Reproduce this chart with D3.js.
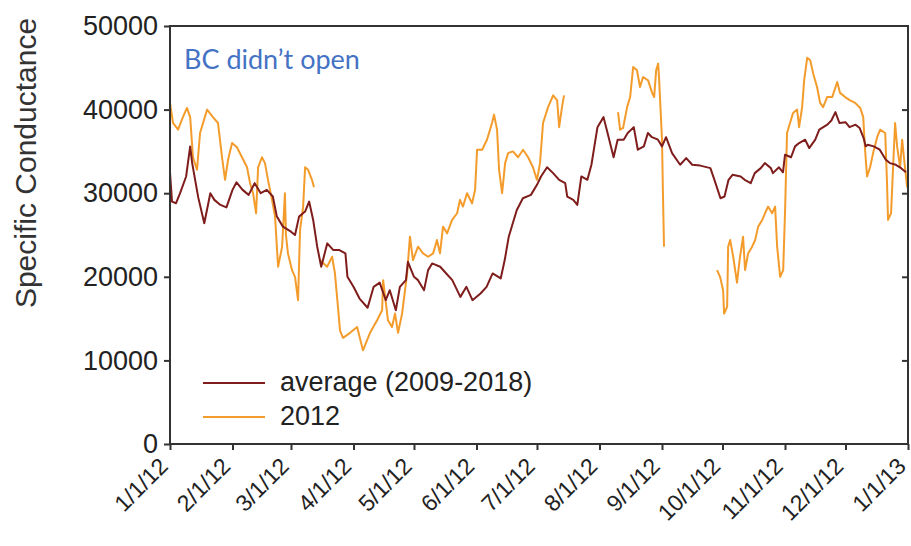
<!DOCTYPE html>
<html>
<head>
<meta charset="utf-8">
<script src="https://cdn.jsdelivr.net/npm/d3@7"></script>
<style>
  html, body { margin: 0; padding: 0; background: #fff; }
  svg { display: block; }
  text { font-family: "Liberation Sans", Arial, sans-serif; }
</style>
</head>
<body>
<svg id="chart" width="911" height="546"></svg>
<script>
// Daily specific conductance, sampled by day of year (0 = Jan 1, 2012)
const avgDay = [0, 1, 3, 5, 8, 10, 11, 14, 17, 20, 22, 25, 28, 31, 33, 36, 39, 42, 45, 48, 51, 53, 56, 60, 62, 64, 67, 69, 71, 73, 75, 78, 81, 84, 87, 88, 91, 94, 98, 101, 104, 107, 109, 112, 114, 117, 118, 121, 123, 126, 128, 130, 134, 137, 140, 144, 147, 150, 154, 157, 160, 164, 166, 168, 170, 172, 175, 179, 182, 184, 187, 190, 193, 196, 197, 200, 202, 204, 207, 209, 212, 215, 217, 220, 222, 225, 227, 230, 232, 235, 237, 239, 242, 244, 246, 249, 253, 256, 259, 263, 268, 270, 273, 275, 277, 279, 283, 285, 288, 290, 293, 295, 298, 299, 302, 304, 305, 308, 310, 312, 315, 317, 320, 322, 326, 328, 330, 332, 335, 337, 340, 342, 344, 345, 346, 349, 352, 355, 357, 360, 362, 365];
const avgValue = [32500, 29000, 28800, 30000, 32000, 35600, 33600, 29500, 26400, 30000, 29200, 28600, 28300, 30400, 31300, 30400, 29800, 31200, 30000, 30400, 29600, 27200, 26000, 25400, 25000, 27200, 27800, 29000, 26800, 23600, 21200, 24000, 23200, 23200, 22800, 20000, 18800, 17400, 16300, 18800, 19300, 17200, 18400, 16000, 18800, 19600, 21800, 20000, 19600, 18400, 20800, 21600, 21200, 20400, 19600, 17600, 18800, 17200, 18000, 18800, 20400, 19800, 22000, 24800, 26400, 28000, 29400, 29800, 31000, 32000, 33100, 32400, 31600, 31200, 29600, 29200, 28600, 32000, 31600, 33400, 37900, 39100, 37200, 34300, 36400, 36400, 37200, 37900, 35200, 35600, 37200, 36700, 36400, 35600, 36700, 34800, 33400, 34200, 33400, 33300, 33000, 31600, 29400, 29600, 31600, 32200, 32000, 31600, 31200, 32400, 33000, 33600, 33000, 32400, 33100, 32500, 34600, 34300, 35600, 36000, 36400, 35400, 36400, 37600, 38200, 38700, 39700, 38400, 38500, 37900, 38200, 37800, 36600, 35600, 35800, 35600, 35200, 34000, 33600, 33400, 33100, 32500];

// 2012 record; null marks days with no data
const yr2012Day = [0, 1.5, 4, 6.4, 8.4, 10, 11.4, 13.4, 14.9, 18.4, 21.3, 23.8, 25.8, 27.3, 28.8, 30.8, 33.2, 35.7, 38.2, 39.7, 41.2, 42.7, 43.7, 45.6, 47.1, 48.6, 50.6, 52.1, 53.6, 55.6, 57, 57.5, 58.5, 60.5, 62, 63.5, 64.5, 66, 67, 68.5, 70.4, 71.4,
  72.9,
  74.4, 77.9, 80.4, 81.8, 83.3, 84.3, 85.8, 89.3, 92.8, 95.7, 99.2, 102.7, 105.2, 105.7, 108.1, 110.1, 111.6, 113.1, 115.1, 117.6, 119, 120.5, 123, 125.5, 128, 130.5, 132.4, 133.9, 135.4, 137.4, 139.9, 142.4, 143.8, 145.3, 147.3, 149.8, 151.3, 152.3, 154.8, 157.2, 159.7, 160.7, 162.2, 163.2, 164.7, 166.2, 167.7, 170.1, 172.6, 175.1, 177.6, 180, 182, 183.5, 185, 187.5, 190, 192, 193, 194.4, 195.4,
  208,
  222.2, 223.2, 224.7, 226.7, 228.2, 229.7, 231.6, 233.1, 234.6, 237.1, 239.1, 240.1, 241.1, 242.1, 242.6, 244, 244.5, 245,
  258,
  271.3, 272.8, 274.3, 274.8, 276.3, 276.8, 277.8, 279.3, 281.2, 282.7, 284.2, 285.2, 286.7, 288.7, 290.2, 291.7, 293.7, 295.1, 296.6, 298.6, 300.1, 301.1, 302.6, 304.1, 305.1, 306, 307.5, 309, 311, 312, 313.5, 314.5, 316, 317.5, 319, 320.9, 322.4, 323.9, 325.9, 328.4, 330.9, 332.3, 334.8, 337.3, 339.8, 342.3, 343.8, 344.7, 345.7, 347.2, 348.7, 350.7, 352.2, 354.7, 355.6, 356.1, 357.6, 358.6, 359.6, 360.6, 362.1, 363.1, 364.1, 365.6];
const yr2012Value = [40800, 38400, 37600, 39100, 40200, 39100, 34300, 32800, 37200, 40000, 39100, 38400, 34300, 31600, 34000, 36000, 35500, 34300, 33100, 31200, 30000, 27600, 33100, 34300, 33600, 31600, 29200, 27200, 21200, 23600, 30000, 25000, 22800, 20800, 20000, 17200, 25600, 28300, 33100, 32800, 31600, 30700,
  null,
  22000, 21200, 22400, 20400, 16400, 13600, 12700, 13300, 14000, 11200, 13300, 14800, 16000, 19600, 14800, 14000, 15600, 13300, 15600, 20400, 24800, 22000, 23600, 22800, 22400, 22800, 24400, 22800, 26000, 25200, 26800, 27600, 29200, 28400, 30000, 28800, 30400, 35200, 35200, 36400, 38400, 39400, 37600, 32800, 30000, 33600, 34800, 35000, 34300, 35200, 34300, 33100, 31600, 33600, 38400, 40300, 41700, 41100, 37900, 40300, 41700,
  null,
  39700, 37600, 37800, 40300, 41500, 45100, 44700, 42700, 43900, 43500, 42000, 41500, 44700, 45500, 43500, 36400, 29600, 23600,
  null,
  20800, 20000, 18400, 15600, 16400, 23600, 24400, 22400, 19300, 22400, 24800, 20800, 22800, 23600, 24400, 26000, 26800, 27600, 28400, 27600, 28400, 23600, 20000, 20800, 28400, 37200, 38400, 39600, 40000, 37900, 40300, 43500, 46200, 45900, 44300, 42700, 40800, 40300, 41500, 41500, 43300, 42000, 41500, 41100, 40800, 40200, 39100, 35200, 32000, 33100, 34800, 36700, 37600, 37200, 31200, 26800, 27600, 33100, 38400, 35600, 33100, 36400, 34000, 30700];

const yTicks = [0, 10000, 20000, 30000, 40000, 50000];
const xTickLabels = ["1/1/12", "2/1/12", "3/1/12", "4/1/12", "5/1/12", "6/1/12", "7/1/12", "8/1/12", "9/1/12", "10/1/12", "11/1/12", "12/1/12", "1/1/13"];
const seriesNames = ["average (2009-2018)", "2012"];
const seriesColors = ["#7f1d1d", "#f39c2c"];
const note = "BC didn\u2019t open";
const yTitle = "Specific Conductance";

const plot = { left: 170, right: 908, top: 26, bottom: 444 };

const svg = d3.select("#chart");
const start = new Date(2012, 0, 1), end = new Date(2013, 0, 1);
const dayToDate = d => new Date(start.getTime() + d * 864e5);

const x = d3.scaleTime().domain([start, end]).range([plot.left, plot.right]);
const y = d3.scaleLinear().domain([0, 50000]).range([plot.bottom, plot.top]);

// Series lines
const avgData = avgDay.map((d, i) => ({ date: dayToDate(d), value: avgValue[i] }));
const yrData = yr2012Day.map((d, i) => ({ date: dayToDate(d), value: yr2012Value[i] }));

const line = d3.line()
  .defined(d => d.value != null)
  .x(d => x(d.date))
  .y(d => y(d.value));

svg.append("path").datum(yrData)
  .attr("d", line).attr("fill", "none")
  .attr("stroke", seriesColors[1]).attr("stroke-width", 2).attr("stroke-linejoin", "round");
svg.append("path").datum(avgData)
  .attr("d", line).attr("fill", "none")
  .attr("stroke", seriesColors[0]).attr("stroke-width", 2).attr("stroke-linejoin", "round");

// Frame
svg.append("rect")
  .attr("x", plot.left).attr("y", plot.top)
  .attr("width", plot.right - plot.left).attr("height", plot.bottom - plot.top)
  .attr("fill", "none").attr("stroke", "#333").attr("stroke-width", 2);

// Left axis
const yAxis = svg.append("g")
  .attr("transform", `translate(${plot.left},0)`)
  .call(d3.axisLeft(y).tickValues(yTicks).tickFormat(d3.format("d")).tickSize(6).tickPadding(6));
yAxis.select(".domain").remove();
yAxis.selectAll("line").attr("stroke", "#333").attr("stroke-width", 2);
yAxis.selectAll("text").style("font-size", "27px").style("fill", "#222");

// Right axis: inward ticks only
const yAxisR = svg.append("g")
  .attr("transform", `translate(${plot.right},0)`)
  .call(d3.axisLeft(y).tickValues(yTicks.slice(1, -1)).tickSize(6).tickFormat(""));
yAxisR.select(".domain").remove();
yAxisR.selectAll("line").attr("stroke", "#333").attr("stroke-width", 2).attr("x2", -6);

// Bottom axis
const monthTicks = d3.timeMonth.range(start, d3.timeDay.offset(end, 1));
const xAxis = svg.append("g")
  .attr("transform", `translate(0,${plot.bottom})`)
  .call(d3.axisBottom(x).tickValues(monthTicks).tickSize(6)
    .tickFormat((d, i) => xTickLabels[i]));
xAxis.select(".domain").remove();
xAxis.selectAll("line").attr("stroke", "#333").attr("stroke-width", 2);
xAxis.selectAll("text")
  .style("font-size", "23px").style("fill", "#222")
  .attr("text-anchor", "end")
  .attr("x", 0).attr("y", 0).attr("dy", "0.35em")
  .attr("transform", "translate(-7,18) rotate(-45)");

// Y title
svg.append("text")
  .attr("transform", `translate(36,${(plot.top + plot.bottom) / 2 - 72}) rotate(-90)`)
  .attr("text-anchor", "middle")
  .style("font-size", "30px").style("fill", "#333")
  .text(yTitle);

// Annotation
svg.append("text")
  .attr("x", 184).attr("y", 69)
  .style("font-family", "Lato, sans-serif").style("font-size", "27px")
  .style("fill", "#4472c4")
  .text(note);

// Legend
const legend = svg.append("g");
seriesNames.forEach((name, i) => {
  const ly = 383 + i * 34;
  legend.append("line")
    .attr("x1", 203).attr("x2", 265).attr("y1", ly).attr("y2", ly)
    .attr("stroke", seriesColors[i]).attr("stroke-width", 2);
  legend.append("text")
    .attr("x", 280).attr("y", ly + 8)
    .style("font-size", "27px").style("fill", "#222")
    .text(name);
});
</script>
</body>
</html>
